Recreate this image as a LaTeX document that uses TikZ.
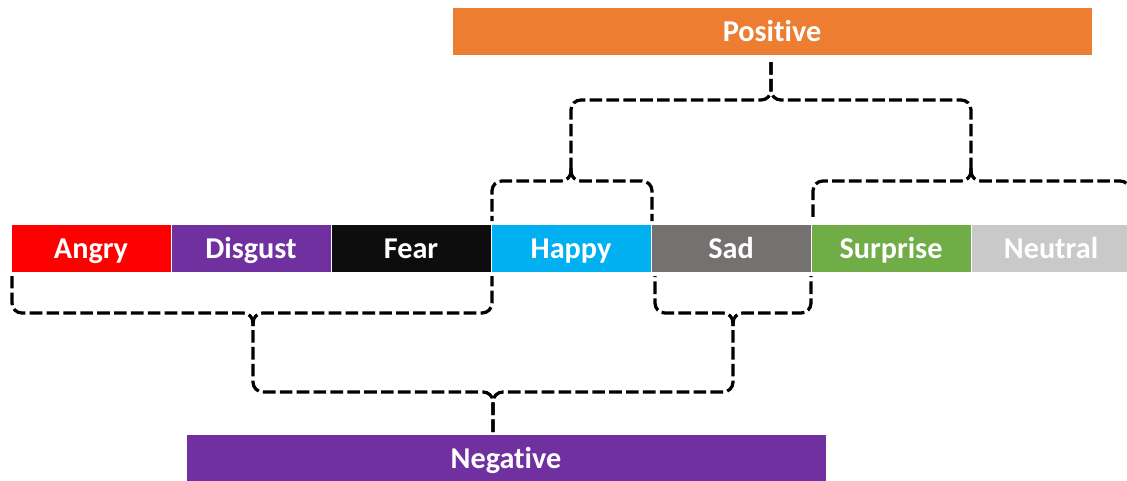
\documentclass[tikz,border=0pt]{standalone}
\usepackage{fontspec}
\setmainfont{Carlito}[Ligatures=NoCommon]
\begin{document}
\begin{tikzpicture}[x=0.025cm,y=-0.025cm,
  emotion/.style={draw=white, line width=0.5pt, inner sep=0pt,
    minimum width=4cm, minimum height=1.2cm, text=white,
    text height=16pt, text depth=0.4pt,
    font=\fontsize{21.5}{24}\selectfont\bfseries},
  group/.style={emotion, minimum width=16cm},
  brace/.style={draw=black, line width=2.3pt, dash pattern=on 9pt off 3pt,
    rounded corners=7pt}]
\useasboundingbox (0,0) rectangle (1127,481);

% emotion colours
\definecolor{cAngry}{HTML}{FF0000}
\definecolor{cDisgust}{HTML}{7030A0}
\definecolor{cFear}{HTML}{0D0D0D}
\definecolor{cHappy}{HTML}{00B0F0}
\definecolor{cSad}{HTML}{767171}
\definecolor{cSurprise}{HTML}{70AD47}
\definecolor{cNeutral}{HTML}{C9C9C9}
\definecolor{cPositive}{HTML}{ED7D31}

% row of emotion boxes
\node[emotion, fill=cAngry]    (angry)    at (91,248)   {Angry};
\node[emotion, fill=cDisgust]  (disgust)  at (251,248)  {Disgust};
\node[emotion, fill=cFear]     (fear)     at (411,248)  {Fear};
\node[emotion, fill=cHappy]    (happy)    at (571,248)  {Happy};
\node[emotion, fill=cSad]      (sad)      at (731,248)  {Sad};
\node[emotion, fill=cSurprise] (surprise) at (891,248)  {Surprise};
\node[emotion, fill=cNeutral]  (neutral)  at (1051,248) {Neutral};

% group boxes
\node[group, fill=cPositive] (positive) at (772,31)  {Positive};
\node[group, fill=cDisgust]  (negative) at (506,458) {Negative};

% brace end points
\coordinate (Dtip) at (571,168);  \coordinate (Dmid) at (571,181);
\coordinate (Dl) at (492,221);    \coordinate (Dr) at (652,221);
\coordinate (Etip) at (971,168);  \coordinate (Emid) at (971,181);
\coordinate (El) at (813,221);    \coordinate (Er) at (1130,221);
\coordinate (Ftip) at (771,62);   \coordinate (Fmid) at (771,100);

\coordinate (Atip) at (253,326);  \coordinate (Amid) at (253,313);
\coordinate (Al) at (12,276);     \coordinate (Ar) at (492,276);
\coordinate (Ctip) at (733,326);  \coordinate (Cmid) at (733,313);
\coordinate (Cl) at (655,276);    \coordinate (Cr) at (811,276);
\coordinate (Btip) at (493,432);  \coordinate (Bmid) at (493,392);

% upper braces
\draw[brace] (Dtip) -- (Dmid) -| (Dl);
\draw[brace] (Dtip) -- (Dmid) -| (Dr);
\draw[brace] (Etip) -- (Emid) -| (El);
\draw[brace] (Etip) -- (Emid) -| (Er);
\draw[brace] (Ftip) -- (Fmid) -| (Dtip);
\draw[brace] (Ftip) -- (Fmid) -| (Etip);

% lower braces
\draw[brace] (Atip) -- (Amid) -| (Al);
\draw[brace] (Atip) -- (Amid) -| (Ar);
\draw[brace] (Ctip) -- (Cmid) -| (Cl);
\draw[brace] (Ctip) -- (Cmid) -| (Cr);
\draw[brace] (Btip) -- (Bmid) -| (Atip);
\draw[brace] (Btip) -- (Bmid) -| (Ctip);
\end{tikzpicture}
\end{document}
